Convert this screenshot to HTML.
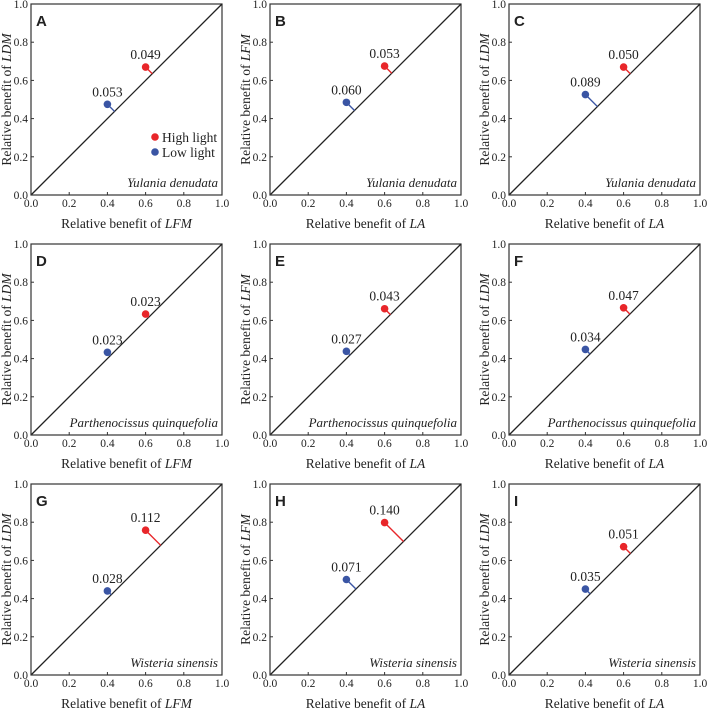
<!DOCTYPE html>
<html><head><meta charset="utf-8">
<style>
html,body{margin:0;padding:0;background:#fff;width:708px;height:708px;overflow:hidden}
svg text, svg tspan{font-family:"Liberation Serif","Times New Roman",Times,serif;fill:#222}
svg text.sans{font-family:"Liberation Sans",Arial,sans-serif}
</style></head>
<body>
<svg id="fig" width="708" height="708" viewBox="0 0 708 708" xmlns="http://www.w3.org/2000/svg"></svg>
<script>
const panelLetters = ["A","B","C","D","E","F","G","H","I"];
const highValues = [0.670,0.675,0.670,0.633,0.661,0.666,0.758,0.798,0.672];
const lowValues  = [0.475,0.485,0.526,0.433,0.438,0.448,0.440,0.500,0.450];
const highLabels = ["0.049","0.053","0.050","0.023","0.043","0.047","0.112","0.140","0.051"];
const lowLabels  = ["0.053","0.060","0.089","0.023","0.027","0.034","0.028","0.071","0.035"];
const highX = 0.6, lowX = 0.4;
const xTitles = ["LFM","LA","LA"];
const yTitles = ["LDM","LFM","LDM"];
const species = ["Yulania denudata","Parthenocissus quinquefolia","Wisteria sinensis"];
const ticks = ["0.0","0.2","0.4","0.6","0.8","1.0"];

const NS="http://www.w3.org/2000/svg";
const svg=document.getElementById('fig');
const SERIF='"Liberation Serif", "Times New Roman", serif';
function mk(tag,attrs,parent){const e=document.createElementNS(NS,tag);for(const k in attrs)e.setAttribute(k,attrs[k]);if(tag==='text'&&!attrs['font-family'])e.setAttribute('font-family',SERIF);(parent||svg).appendChild(e);return e;}

const S=191;
for(let i=0;i<9;i++){
  const r=Math.floor(i/3), c=i%3;
  const L=31+c*239, T=4+r*240;
  const sx=v=>L+v*S, sy=v=>T+S-v*S;
  const g=mk('g',{});
  
  
  const box=mk('rect',{x:L,y:T,width:S,height:S,fill:'none',stroke:'#333','stroke-width':1.2},g);
  
  
  const diag=mk('line',{x1:sx(0),y1:sy(0),x2:sx(1),y2:sy(1),stroke:'#222','stroke-width':1.3},g);
  
  
  ticks.forEach((t,k)=>{
    const v=k*0.2;
    const tx=mk('text',{x:sx(v),y:T+S+12,'font-size':11.5,'text-anchor':'middle'},g);tx.textContent=t;
    
    
    const ty=mk('text',{x:L-3,y:sy(v)+4,'font-size':11.5,'text-anchor':'end'},g);ty.textContent=t;
    
    
    mk('line',{x1:sx(v),y1:T+S,x2:sx(v),y2:T+S-3,stroke:'#333'},g);
    mk('line',{x1:L,y1:sy(v),x2:L+3,y2:sy(v),stroke:'#333'},g);
  });
  const xt=mk('text',{x:L+S/2,y:T+S+33,'font-size':13.5,'text-anchor':'middle'},g);
  xt.innerHTML='Relative benefit of <tspan font-style="italic">'+xTitles[c]+'</tspan>';
  
  
  const yt=mk('text',{x:0,y:0,'font-size':13.5,'text-anchor':'middle',transform:`translate(${L-20},${T+S/2}) rotate(-90)`},g);
  yt.innerHTML='Relative benefit of <tspan font-style="italic">'+yTitles[c]+'</tspan>';
  
  
  const lt=mk('text',{x:L+5,y:T+22,'font-size':15,'font-weight':'bold','font-family':'"Liberation Sans", Arial, sans-serif','class':'sans'},g);
  lt.textContent=panelLetters[i];
  
  
  const sp=mk('text',{x:L+S-4,y:T+S-8,'font-size':13,'font-style':'italic','text-anchor':'end'},g);
  sp.textContent=species[r];
  
  
  [[highX,highValues[i],highLabels[i],'#e8262a','high'],[lowX,lowValues[i],lowLabels[i],'#3a55a4','low']].forEach(([x,y,lab,col,nm])=>{
    const f=(x+y)/2;
    const ln=mk('line',{x1:sx(x),y1:sy(y),x2:sx(f),y2:sy(f),stroke:col,'stroke-width':1.4},g);
    
    
    const pt=mk('circle',{cx:sx(x),cy:sy(y),r:3.8,fill:col},g);
    
    
    const tl=mk('text',{x:sx(x),y:sy(y)-8,'font-size':13.5,'text-anchor':'middle'},g);
    tl.textContent=lab;
    
    
  });
  if(i===0){
    const lg=mk('g',{},g);
    
    
    mk('circle',{cx:L+124,cy:T+133,r:3.8,fill:'#e8262a'},lg);
    const t1=mk('text',{x:L+131,y:T+138,'font-size':13.5},lg);t1.textContent='High light';
    
    
    mk('circle',{cx:L+124,cy:T+148,r:3.8,fill:'#3a55a4'},lg);
    const t2=mk('text',{x:L+131,y:T+153,'font-size':13.5},lg);t2.textContent='Low light';
    
    
  }
}
</script>
</body></html>
